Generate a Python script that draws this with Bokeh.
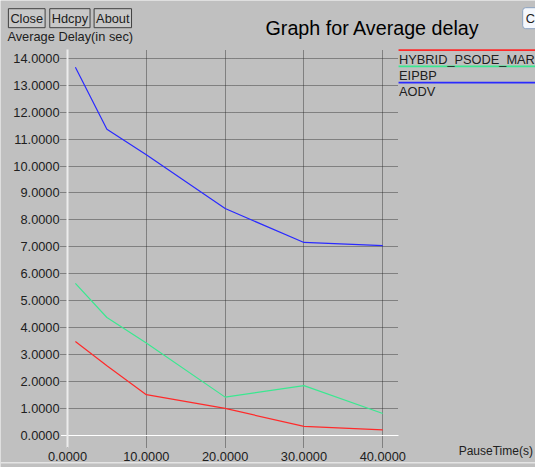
from bokeh.plotting import figure
from bokeh.models import (Range1d, FixedTicker, PrintfTickFormatter, Label, BoxAnnotation,
                          LinearAxis)
from bokeh.embed import file_html
from bokeh.resources import INLINE

# ---- data ----
pause_time = [1, 5, 10, 20, 30, 40]
hybrid_psode_mark = [3.48, 2.58, 1.50, 0.99, 0.32, 0.19]
eipbp = [5.64, 4.37, 3.42, 1.41, 1.84, 0.80]
aodv = [13.67, 11.37, 10.42, 8.42, 7.16, 7.04]
series_names = ["HYBRID_PSODE_MARK", "EIPBP", "AODV"]
series_colors = ["#ff2a2a", "#3ae890", "#2a2aff"]
x_ticks = [0, 10, 20, 30, 40]
y_ticks = list(range(0, 15))
title_text = "Graph for Average delay"
y_title = "Average Delay(in sec)"
x_title = "PauseTime(s)"
buttons = ["Close", "Hdcpy", "About"]

FONT = "Liberation Sans"
BG = "#c0c0c0"
W, H = 535, 467                  # canvas (fits the window with its 8px margin)
RW, RH = 543, 475                # reference picture size
PX_X, PX_Y = 8.0, 27.36          # reference pixels per data unit
ORG_X, ORG_Y = 68, 442           # reference px of the data origin
X0, X1 = -ORG_X / PX_X, (RW - ORG_X) / PX_X
Y0, Y1 = -(RH - ORG_Y) / PX_Y, ORG_Y / PX_Y
FS = "12.8px"

# reference px -> data coords
def DX(px):
    return X0 + px / PX_X

def DY(py):
    return Y1 - py / PX_Y

# plotting region bounds
RX0, RX1 = DX(61), DX(404)
RY0, RY1 = DY(455), DY(50)

p = figure(width=W, height=H, output_backend="svg", toolbar_location=None,
           title=None, x_axis_location=None, y_axis_location=None,
           x_range=Range1d(X0, X1), y_range=Range1d(Y0, Y1),
           min_border=0)
p.background_fill_color = BG
p.border_fill_color = BG
p.outline_line_color = None

# tick-label axes, fixed at the edges of the plotting region
yax = LinearAxis(fixed_location=RX0, ticker=FixedTicker(ticks=y_ticks),
                 formatter=PrintfTickFormatter(format="%.4f"))
xax = LinearAxis(fixed_location=RY0, ticker=FixedTicker(ticks=x_ticks),
                 formatter=PrintfTickFormatter(format="%.4f"))
for ax in (xax, yax):
    ax.axis_line_color = None
    ax.major_tick_line_color = None
    ax.minor_tick_line_color = None
    ax.major_tick_out = 0
    ax.major_tick_in = 0
    ax.minor_tick_out = 0
    ax.minor_tick_in = 0
    ax.major_label_text_font = FONT
    ax.major_label_text_font_size = FS
    ax.major_label_text_color = "#202020"
xax.major_label_standoff = 4
yax.major_label_standoff = 1
p.add_layout(yax, "left")
p.add_layout(xax, "below")

# grid limited to the plotting region
p.xgrid.ticker = FixedTicker(ticks=x_ticks)
p.ygrid.ticker = FixedTicker(ticks=y_ticks)
p.xgrid.cross_bounds = (RY0, RY1)
p.ygrid.cross_bounds = (RX0, RX1)
for g in (p.xgrid[0], p.ygrid[0]):
    g.grid_line_color = "#202020"
    g.grid_line_dash = "1 1"
    g.grid_line_width = 1
    g.grid_line_alpha = 0.8

# white zero lines (x = 0 and y = 0)
zx = LinearAxis(fixed_location=0, bounds=(RY0, RY1), ticker=FixedTicker(ticks=[]),
                axis_line_color="#ececec", axis_line_width=2,
                major_tick_line_color=None, minor_tick_line_color=None,
                major_tick_out=0, minor_tick_out=0,
                major_label_text_font_size="0px")
zy = LinearAxis(fixed_location=0, bounds=(RX0, RX1), ticker=FixedTicker(ticks=[]),
                axis_line_color="#ffffff", axis_line_width=1,
                major_tick_line_color=None, minor_tick_line_color=None,
                major_tick_out=0, minor_tick_out=0,
                major_label_text_font_size="0px")
p.add_layout(zx, "left")
p.add_layout(zy, "below")

# series
for ys, c in zip([hybrid_psode_mark, eipbp, aodv], series_colors):
    p.line(pause_time, ys, line_color=c, line_width=1.2)

# legend (line above each name)
leg_line_y = [50.5, 67, 83.5]
for c, ly in zip(series_colors, leg_line_y):
    p.add_layout(BoxAnnotation(left=DX(404), right=DX(560), top=DY(ly - 0.8), bottom=DY(ly + 0.8),
                               fill_color=c, fill_alpha=1, line_color=None))
for name, ly in zip(series_names, leg_line_y):
    p.add_layout(Label(x=DX(404.5), y=DY(ly + 9.5), text=name, text_font=FONT, text_font_size=FS,
                       text_color="#202020", text_baseline="alphabetic", text_align="left"))

# title and axis titles
p.add_layout(Label(x=DX(269), y=DY(28), text=title_text, text_font=FONT, text_font_size="19.7px",
                   text_color="#000000", text_baseline="alphabetic"))
p.add_layout(Label(x=DX(7), y=DY(37), text=y_title, text_font=FONT, text_font_size=FS,
                   text_color="#202020", text_baseline="alphabetic"))
p.add_layout(Label(x=DX(465), y=DY(458), text=x_title, text_font=FONT, text_font_size="12px",
                   text_color="#202020", text_baseline="alphabetic"))

# buttons
bx = [8, 50, 95]
for b, x in zip(buttons, bx):
    p.add_layout(Label(x=DX(x), y=DY(18), text=b, text_font=FONT, text_font_size=FS,
                       text_color="#202020", text_baseline="alphabetic",
                       border_line_color="#404040", border_line_width=1,
                       background_fill_color="#c8c8c8", padding=2))
p.add_layout(Label(x=DX(530), y=DY(18), text="Close", text_font=FONT, text_font_size=FS,
                   text_color="#202020", text_baseline="alphabetic",
                   border_line_color="#8aa2c0", border_line_width=1, border_radius=3,
                   background_fill_color="#f4f7fc", padding=3))

# bottom light edge
p.add_layout(BoxAnnotation(left=DX(0), right=DX(560), top=DY(469.5), bottom=DY(471),
                           fill_color="#e4e4e4", fill_alpha=1, line_color=None))

open("out.html", "w").write(file_html(p, INLINE))
